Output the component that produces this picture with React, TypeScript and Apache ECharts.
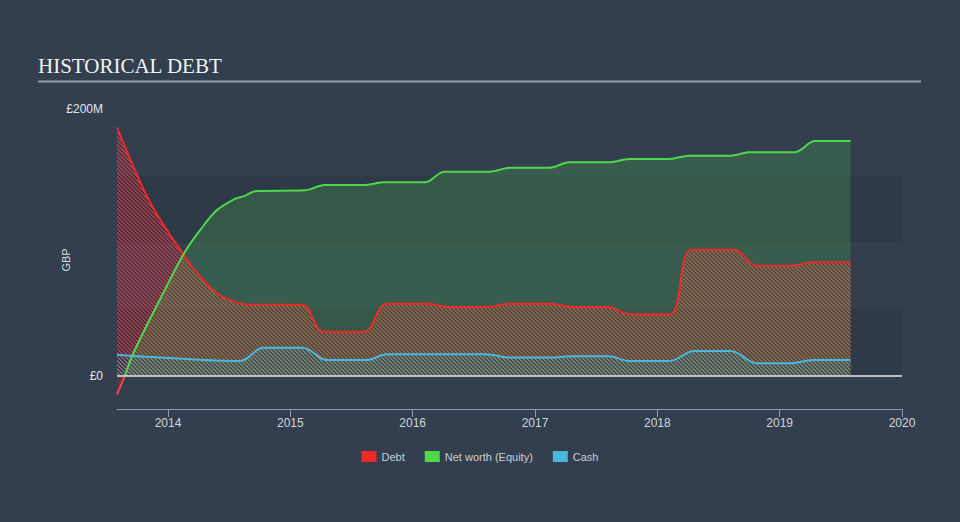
import React, { useEffect, useRef } from 'react';
import * as echarts from 'echarts';

const yearTicks = [2014, 2015, 2016, 2017, 2018, 2019, 2020];
const yLabelValues = [0, 200];
const bandRanges: [number, number][] = [[0, 50], [100, 150]];

const debt: [number, number][] = [
  [2013.583, 186.3], [2013.714, 157.5], [2013.853, 130], [2014.044, 101.8],
  [2014.261, 74.4], [2014.398, 62], [2014.534, 55.7], [2014.67, 53.2], [2015.1, 53],
  [2015.27, 33], [2015.6, 33], [2015.79, 54], [2016.12, 54], [2016.3, 51.5],
  [2016.6, 51.5], [2016.8, 54], [2017.12, 54], [2017.3, 51.5], [2017.6, 51.5],
  [2017.77, 46], [2018.1, 46], [2018.28, 94.5], [2018.63, 94.5], [2018.81, 82.5],
  [2019.1, 82.5], [2019.27, 85], [2019.58, 85],
];

const netWorthNegative: [number, number][] = [[2013.583, -14], [2013.649, 0]];

const netWorth: [number, number][] = [
  [2013.649, 0], [2013.717, 17], [2013.989, 67], [2014.139, 93], [2014.261, 109],
  [2014.398, 124], [2014.534, 132], [2014.615, 134.5], [2014.725, 138.5], [2015.12, 139],
  [2015.28, 143], [2015.6, 143], [2015.77, 145], [2016.1, 145], [2016.26, 153],
  [2016.63, 153], [2016.8, 156], [2017.12, 156], [2017.28, 160], [2017.6, 160],
  [2017.77, 162.5], [2018.1, 162.5], [2018.26, 165], [2018.6, 165], [2018.75, 167.5],
  [2019.12, 167.5], [2019.29, 176], [2019.58, 176],
];

const cash: [number, number][] = [
  [2013.583, 15.7], [2013.93, 13.6], [2014.59, 11], [2014.78, 21], [2015.1, 21],
  [2015.3, 11.7], [2015.62, 11.7], [2015.79, 16], [2016.6, 16], [2016.8, 13.6],
  [2017.12, 13.6], [2017.3, 14.5], [2017.6, 14.5], [2017.77, 11], [2018.1, 11],
  [2018.3, 18.5], [2018.6, 18.5], [2018.81, 9.4], [2019.1, 9.4], [2019.27, 11.8],
  [2019.58, 11.8],
];

const RED = '#ec2a2a';
const GREEN = '#4fd84a';
const BLUE = '#4ab8dc';
const SANS = '"Liberation Sans", Arial, sans-serif';

function makeStripes(color: string, size: number, thick: number): HTMLCanvasElement {
  const c = document.createElement('canvas');
  c.width = size;
  c.height = size;
  const ctx = c.getContext('2d')!;
  ctx.fillStyle = color;
  for (let y = 0; y < size; y++) {
    for (let k = 0; k < thick; k++) {
      ctx.fillRect((y + k) % size, y, 1, 1);
    }
  }
  return c;
}

export default function App() {
  const ref = useRef<HTMLDivElement>(null);
  useEffect(() => {
    const chart = echarts.init(ref.current!, null, { renderer: 'svg' });
    const redStripes = makeStripes('rgba(235,55,65,0.72)', 4, 2);
    const blueStripes = makeStripes('rgba(74,184,220,0.36)', 4, 2);
    chart.setOption({
      animation: false,
      backgroundColor: '#333f4f',
      grid: { left: 117, right: 58, top: 109, bottom: 113 },
      legend: {
        top: 446,
        left: 'center',
        icon: 'rect',
        itemWidth: 15,
        itemHeight: 11,
        itemGap: 20,
        textStyle: { color: '#c9ced6', fontSize: 11, fontFamily: SANS },
        data: ['Debt', 'Net worth (Equity)', 'Cash'],
      },
      graphic: [
        {
          type: 'text',
          x: 38,
          y: 66,
          style: {
            text: 'HISTORICAL DEBT',
            font: '21px "Liberation Serif", "Times New Roman", serif',
            fill: '#f2f2f2',
            verticalAlign: 'middle',
          },
        },
        {
          type: 'rect',
          shape: { x: 38, y: 80.5, width: 883, height: 2 },
          style: { fill: '#9aa1aa' },
        },
        {
          type: 'text',
          x: 66,
          y: 260,
          rotation: Math.PI / 2,
          style: {
            text: 'GBP',
            font: '11px ' + SANS,
            fill: '#d8dce2',
            align: 'center',
            verticalAlign: 'middle',
          },
        },
      ],
      xAxis: {
        type: 'value',
        min: 2013.583,
        max: 2020,
        axisLine: { show: true, onZero: false, lineStyle: { color: '#8c9aab', width: 1 } },
        axisTick: { show: true, customValues: yearTicks, length: 8, lineStyle: { color: '#8c9aab' } },
        axisLabel: {
          customValues: yearTicks,
          color: '#cfd5dc',
          fontSize: 12,
          fontFamily: SANS,
          margin: 8,
          formatter: (v: number) => String(Math.round(v)),
        },
        splitLine: { show: false },
      },
      yAxis: {
        type: 'value',
        min: -25,
        max: 200,
        axisLine: { show: false },
        axisTick: { show: false },
        splitLine: { show: false },
        axisLabel: {
          customValues: yLabelValues,
          color: '#e2e5ea',
          fontSize: 12,
          fontFamily: SANS,
          margin: 14,
          formatter: (v: number) => (v === 0 ? '£0' : '£' + v + 'M'),
        },
      },
      series: [
        {
          type: 'line',
          z: 1,
          data: [],
          silent: true,
          markArea: {
            silent: true,
            itemStyle: { color: 'rgba(0,0,0,0.08)' },
            data: bandRanges.map(([a, b]) => [{ yAxis: a }, { yAxis: b }]),
          },
        },
        {
          name: 'Debt',
          type: 'line',
          data: debt,
          smooth: 0.35,
          showSymbol: false,
          itemStyle: { color: RED },
          lineStyle: { color: RED, width: 2 },
          areaStyle: { color: { image: redStripes, repeat: 'repeat' }, opacity: 1 },
        },
        {
          name: 'NetNegative',
          type: 'line',
          data: netWorthNegative,
          showSymbol: false,
          itemStyle: { color: RED },
          lineStyle: { color: '#ff4040', width: 2 },
          areaStyle: { color: 'rgba(200,40,60,0.3)' },
        },
        {
          name: 'Net worth (Equity)',
          type: 'line',
          data: netWorth,
          smooth: 0.35,
          showSymbol: false,
          itemStyle: { color: GREEN },
          lineStyle: { color: GREEN, width: 2 },
          areaStyle: { color: 'rgba(79,216,74,0.27)' },
        },
        {
          name: 'Cash',
          type: 'line',
          data: cash,
          smooth: 0.35,
          showSymbol: false,
          itemStyle: { color: BLUE },
          lineStyle: { color: BLUE, width: 2 },
          areaStyle: { color: { image: blueStripes, repeat: 'repeat' }, opacity: 1 },
          markLine: {
            silent: true,
            symbol: 'none',
            label: { show: false },
            lineStyle: { color: '#f2e4e4', width: 1.5, type: 'solid' },
            data: [{ yAxis: 0 }],
          },
        },
      ],
    });
    return () => chart.dispose();
  }, []);
  return (
    <div
      ref={ref}
      style={{ position: 'fixed', left: 0, top: 0, width: 960, height: 522 }}
    />
  );
}
